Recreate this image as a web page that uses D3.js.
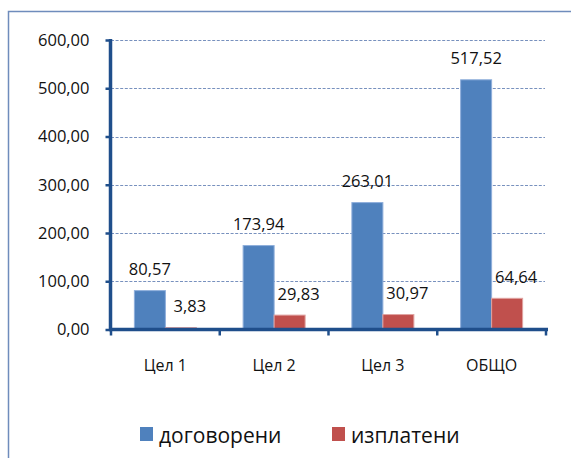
<!DOCTYPE html>
<html>
<head>
<meta charset="utf-8">
<script src="https://cdn.jsdelivr.net/npm/d3@7"></script>
<style>
  html, body { margin: 0; padding: 0; background: #fff; }
  svg { display: block; font-family: "Open Sans", sans-serif; }
</style>
</head>
<body>
<svg id="chart" width="571" height="458"></svg>
<script>
const categories = ["Цел 1", "Цел 2", "Цел 3", "ОБЩО"];
const seriesNames = ["договорени", "изплатени"];
const contracted = [80.57, 173.94, 263.01, 517.52];
const paid = [3.83, 29.83, 30.97, 64.64];
const yTicks = [0, 100, 200, 300, 400, 500, 600];
const colors = ["#4f81bd", "#c0504d"];
const edgeColors = ["#8eaedb", "#e0a3a1"];

const locale = d3.formatLocale({decimal: ",", thousands: " ", grouping: [3], currency: ["", ""]});
const fmt = locale.format(".2f");

const svg = d3.select("#chart");
const axisColor = "#1f4e8b";
const textColor = "#111";

// frame
svg.append("path")
  .attr("d", "M8.5,458 L8.5,11.5 L571,11.5")
  .attr("fill", "none").attr("stroke", "#6f8cbc").attr("stroke-width", 1.5);

const y = d3.scaleLinear().domain([0, 600]).range([329.5, 40]);
const x = d3.scaleBand().domain(categories).range([111, 546]).padding(0);
const barW = 31;

// gridlines
svg.append("g").selectAll("line")
  .data(yTicks.filter(d => d > 0))
  .join("line")
  .attr("x1", 111).attr("x2", 545)
  .attr("y1", d => Math.round(y(d)) + 0.5).attr("y2", d => Math.round(y(d)) + 0.5)
  .attr("stroke", "#7891be").attr("stroke-width", 1).attr("stroke-dasharray", "3,1.6");

// bars
const data = categories.map((c, i) => ({c, vals: [contracted[i], paid[i]]}));
const groups = svg.append("g").selectAll("g").data(data).join("g");
groups.selectAll("rect")
  .data(d => d.vals.map((v, s) => ({c: d.c, v, s})))
  .join("rect")
  .attr("x", d => x(d.c) + x.bandwidth() / 2 - barW + d.s * barW)
  .attr("y", d => y(d.v))
  .attr("width", barW)
  .attr("height", d => y(0) - y(d.v))
  .attr("fill", d => colors[d.s])
  .attr("stroke", d => edgeColors[d.s])
  .attr("stroke-width", 1);

// value labels
groups.selectAll("text")
  .data(d => d.vals.map((v, s) => ({c: d.c, v, s})))
  .join("text")
  .attr("x", d => x(d.c) + x.bandwidth() / 2 - barW / 2 + d.s * barW + (d.s === 1 ? 9 : 0))
  .attr("y", d => y(d.v) - 22)
  .attr("text-anchor", "middle")
  .attr("dominant-baseline", "central")
  .attr("font-size", 16.5)
  .attr("fill", textColor)
  .text(d => fmt(d.v));

// y axis
const yAxis = svg.append("g")
  .attr("transform", "translate(110.5,0)")
  .call(d3.axisLeft(y).tickValues(yTicks).tickSize(5).tickPadding(16).tickFormat(fmt));
yAxis.select(".domain").attr("stroke", axisColor).attr("stroke-width", 3.5)
  .attr("d", `M0,${y(600) - 1}V${y(0) + 1.5}`);
yAxis.selectAll(".tick line").attr("stroke", axisColor).attr("stroke-width", 2.5);
yAxis.selectAll(".tick text").attr("font-size", 16.5).attr("fill", textColor)
  .attr("font-family", "Open Sans, sans-serif");

// x axis
const xAxis = svg.append("g").attr("transform", "translate(0,329.5)");
xAxis.append("line")
  .attr("x1", 109).attr("x2", 548).attr("y1", 0).attr("y2", 0)
  .attr("stroke", axisColor).attr("stroke-width", 3.5);
const bounds = categories.map(c => x(c)).concat([x.range()[1]]);
xAxis.selectAll("line.tk").data(bounds).join("line").attr("class", "tk")
  .attr("x1", d => d).attr("x2", d => d).attr("y1", 0).attr("y2", 6)
  .attr("stroke", axisColor).attr("stroke-width", 2.5);
xAxis.selectAll("text").data(categories).join("text")
  .attr("x", d => x(d) + x.bandwidth() / 2)
  .attr("y", 35)
  .attr("text-anchor", "middle").attr("dominant-baseline", "central")
  .attr("font-size", 16).attr("fill", textColor)
  .text(d => d);

// legend
const legendX = [140, 332];
const lg = svg.append("g").selectAll("g").data(seriesNames).join("g")
  .attr("transform", (d, i) => `translate(${legendX[i]},427)`);
lg.append("rect").attr("width", 13).attr("height", 14).attr("fill", (d, i) => colors[i]);
lg.append("text").attr("x", 19).attr("y", 7.5)
  .attr("dominant-baseline", "central")
  .attr("font-size", 21).attr("fill", textColor)
  .text(d => d);
</script>
</body>
</html>
